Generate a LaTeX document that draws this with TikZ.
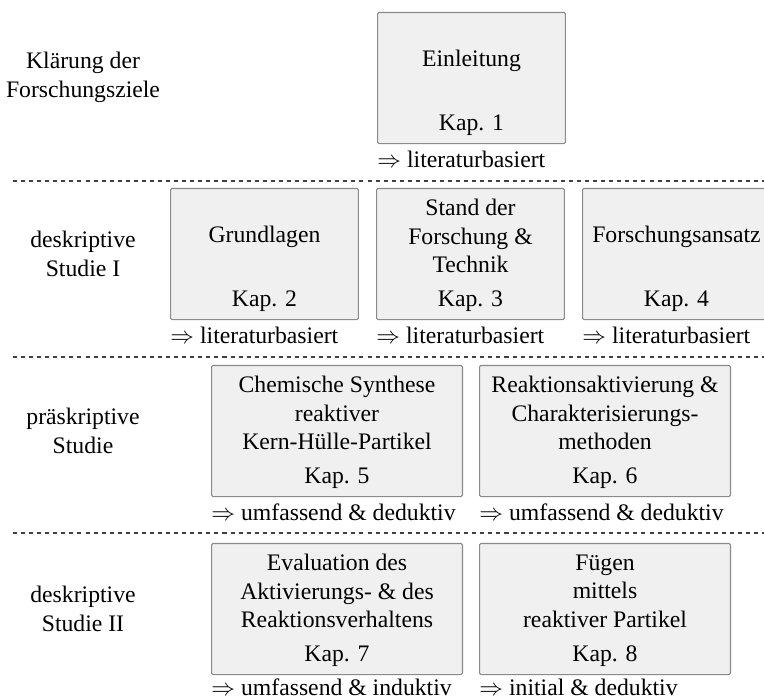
\documentclass[tikz,border=0pt]{standalone}
\usepackage{fontspec}
\setmainfont{Liberation Serif}
\usepackage{tikz}
\usetikzlibrary{positioning}
\definecolor{gr50}{HTML}{8A8A8A}
\definecolor{gr06}{HTML}{F0F0F0}
\definecolor{gr80}{HTML}{404040}

\begin{document}
\begin{tikzpicture}[x=0.422pt, y=-0.422pt,
    kapbox/.style={rectangle, draw=gr50, fill=gr06, rounded corners=0.6pt,
                   line width=0.45pt, anchor=north west, minimum height=55.3pt,
                   inner sep=0pt},
    kleinbox/.style={kapbox, minimum width=79.3pt},
    grossbox/.style={kapbox, minimum width=105.9pt},
    titel/.style={align=center, inner sep=0pt},
    kap/.style={inner sep=0pt},
    ergebnis/.style={anchor=west, inner sep=0pt},
    phase/.style={align=center, inner sep=0pt},
    trenn/.style={draw=gr80, line width=0.45pt, dash pattern=on 1.7pt off 1.7pt}]
  \useasboundingbox (0,0) rectangle (764,698);

  % Phasen links
  \node[phase] (ph1) at (83,77.5)  {Klärung der\\Forschungsziele};
  \node[phase] (ph2) at (83,254)   {deskriptive\\Studie I};
  \node[phase] (ph3) at (83,431)   {präskriptive\\Studie};
  \node[phase] (ph4) at (83,609)   {deskriptive\\Studie II};

  \foreach \y in {181,357,533}
    \draw[trenn] (13,\y) -- (764,\y);

  % Kapitel
  \node[kleinbox] (k1) at (377,12)  {};
  \node[kleinbox] (k2) at (170,188) {};
  \node[kleinbox] (k3) at (376,188) {};
  \node[kleinbox] (k4) at (582,188) {};
  \node[grossbox] (k5) at (211,365) {};
  \node[grossbox] (k6) at (479,365) {};
  \node[grossbox] (k7) at (211,543) {};
  \node[grossbox] (k8) at (479,543) {};

  \node[titel] (t1) at ([yshift=-20.8pt]k1.north) {Einleitung};
  \node[titel] (t2) at ([yshift=-20.8pt]k2.north) {Grundlagen};
  \node[titel] (t3) at ([yshift=-20.3pt]k3.north) {Stand der\\Forschung \&\\Technik};
  \node[titel] (t4) at ([yshift=-20.8pt]k4.north) {Forschungsansatz};
  \node[titel] (t5) at ([yshift=-20.3pt]k5.north) {Chemische Synthese\\reaktiver\\Kern-Hülle-Partikel};
  \node[titel] (t6) at ([yshift=-20.3pt]k6.north) {Reaktionsaktivierung \&\\Charakterisierungs-\\methoden};
  \node[titel] (t7) at ([yshift=-20.3pt]k7.north) {Evaluation des\\Aktivierungs- \& des\\Reaktionsverhaltens};
  \node[titel] (t8) at ([yshift=-20.3pt]k8.north) {Fügen\\mittels\\reaktiver Partikel};

  \node[kap] (n1) at ([yshift=8pt]k1.south) {Kap. 1};
  \node[kap] (n2) at ([yshift=8pt]k2.south) {Kap. 2};
  \node[kap] (n3) at ([yshift=8pt]k3.south) {Kap. 3};
  \node[kap] (n4) at ([yshift=8pt]k4.south) {Kap. 4};
  \node[kap] (n5) at ([yshift=8pt]k5.south) {Kap. 5};
  \node[kap] (n6) at ([yshift=8pt]k6.south) {Kap. 6};
  \node[kap] (n7) at ([yshift=8pt]k7.south) {Kap. 7};
  \node[kap] (n8) at ([yshift=8pt]k8.south) {Kap. 8};

  % Vorgehen
  \node[ergebnis] (e1) at ([yshift=-6.5pt]k1.south west) {$\Rightarrow$ literaturbasiert};
  \node[ergebnis] (e2) at ([yshift=-6.5pt]k2.south west) {$\Rightarrow$ literaturbasiert};
  \node[ergebnis] (e3) at ([yshift=-6.5pt]k3.south west) {$\Rightarrow$ literaturbasiert};
  \node[ergebnis] (e4) at ([yshift=-6.5pt]k4.south west) {$\Rightarrow$ literaturbasiert};
  \node[ergebnis] (e5) at ([yshift=-6.5pt]k5.south west) {$\Rightarrow$ umfassend \& deduktiv};
  \node[ergebnis] (e6) at ([yshift=-6.5pt]k6.south west) {$\Rightarrow$ umfassend \& deduktiv};
  \node[ergebnis] (e7) at ([yshift=-5pt]k7.south west) {$\Rightarrow$ umfassend \& induktiv};
  \node[ergebnis] (e8) at ([yshift=-5pt]k8.south west) {$\Rightarrow$ initial \& deduktiv};
\end{tikzpicture}
\end{document}
